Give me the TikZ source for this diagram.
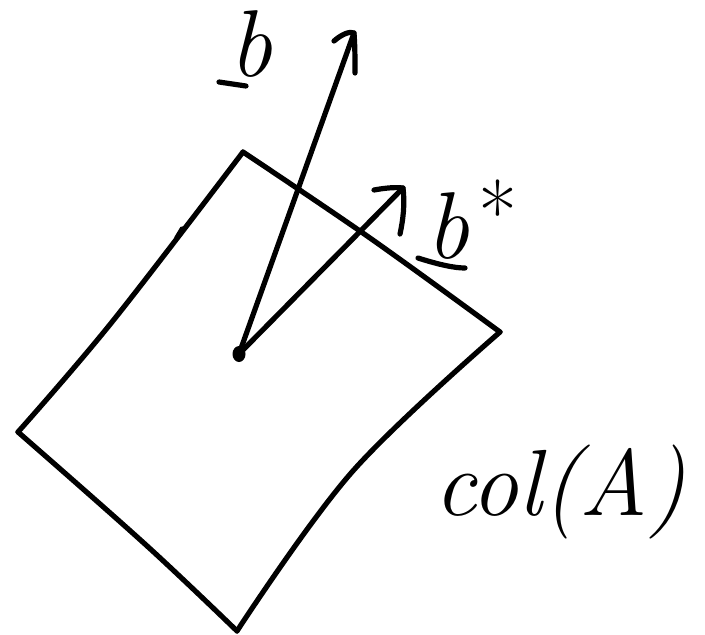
\documentclass[tikz,border=0pt]{standalone}
\usetikzlibrary{calc}
\begin{document}
\begin{tikzpicture}[x=1pt,y=-1pt,
  pen/.style={line width=5.2pt,line cap=round,line join=round,black},
  lbl/.style={inner sep=0pt,font=\fontsize{95}{95}\selectfont\itshape}]
\useasboundingbox (0,0) rectangle (705,635);
% plane corners
\coordinate (T) at (243,152);
\coordinate (R) at (500,332);
\coordinate (B) at (237,631);
\coordinate (L) at (18,432);
\draw[pen] plot[smooth,tension=0.6] coordinates {(L) (112,322) (T)};
\draw[pen] plot[smooth,tension=0.6] coordinates {(T) (370,238) (R)};
\draw[pen] plot[smooth,tension=0.6] coordinates {(R) (352,472) (B)};
\draw[pen] plot[smooth,tension=0.6] coordinates {(B) (146,545) (L)};
\draw[pen,line width=3.8pt] (176,238) -- (182,228);
% origin
\coordinate (O) at (239,354);
\fill (O) ellipse (6.5 and 8);
% vector b
\coordinate (btip) at (354,33);
\draw[pen] (O) -- (btip);
\draw[pen] (334,41) .. controls (342,34) and (350,31) .. (btip) .. controls (355,45) and (355,60) .. (355,73);
% vector b*
\coordinate (stip) at (403,188);
\draw[pen] (O) -- (stip);
\draw[pen] (374,190) .. controls (385,188) and (395,187) .. (stip) .. controls (405,205) and (403,220) .. (400,234);
% labels
\node[lbl,anchor=base] (lb) at (251,76) {b};
\draw[pen] (219,82) -- (246,86);
\node[lbl,anchor=base] (ls) at (448,258) {b};
\node[lbl,anchor=center,font=\fontsize{85}{85}\selectfont] (star) at (498,212) {*};
\draw[pen] (418,258) .. controls (440,265) and (455,268) .. (465,268);
\node[lbl,anchor=base,font=\fontsize{94}{94}\selectfont\itshape] (col) at (560,515) {col(A)};
\end{tikzpicture}
\end{document}
